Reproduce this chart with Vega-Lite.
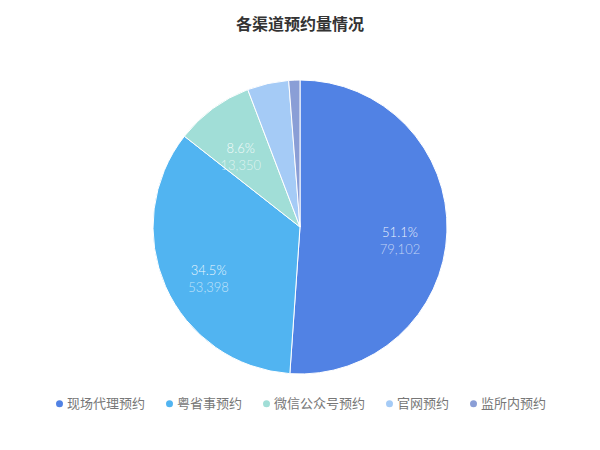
{
  "$schema": "https://vega.github.io/schema/vega-lite/v6.json",
  "width": 600,
  "height": 354,
  "autosize": "none",
  "padding": {"top": 50, "left": 0, "right": 0, "bottom": 46},
  "background": "white",
  "title": {
    "text": "各渠道预约量情况",
    "fontSize": 16,
    "fontWeight": "bold",
    "color": "#333333",
    "font": "Noto Sans CJK SC",
    "offset": 17
  },
  "data": {
    "values": [
      {"channel": "现场代理预约", "rank": 1, "count": 79102, "share": 0.511},
      {"channel": "粤省事预约", "rank": 2, "count": 53398, "share": 0.345},
      {"channel": "微信公众号预约", "rank": 3, "count": 13350, "share": 0.086},
      {"channel": "官网预约", "rank": 4, "count": 7050, "share": 0.046},
      {"channel": "监所内预约", "rank": 5, "count": 1900, "share": 0.012}
    ]
  },
  "encoding": {
    "theta": {"field": "count", "type": "quantitative", "stack": true},
    "order": {"field": "rank", "type": "quantitative"}
  },
  "layer": [
    {
      "mark": {"type": "arc", "outerRadius": 147, "stroke": "white", "strokeWidth": 1},
      "encoding": {
        "color": {
          "field": "channel",
          "type": "nominal",
          "scale": {
            "domain": ["现场代理预约", "粤省事预约", "微信公众号预约", "官网预约", "监所内预约"],
            "range": ["#5182E4", "#51B4F1", "#A1DED7", "#A5CBF6", "#8A9ED6"]
          },
          "legend": {
            "orient": "none",
            "direction": "horizontal",
            "legendX": 53,
            "legendY": 347,
            "title": null,
            "symbolType": "circle",
            "symbolSize": 49,
            "symbolStrokeWidth": 0,
            "labelFont": "Noto Sans CJK SC",
            "labelFontSize": 13,
            "labelColor": "#777777",
            "labelOffset": 1,
            "columnPadding": 17
          }
        }
      }
    },
    {
      "transform": [{"filter": "datum.share > 0.05"}],
      "mark": {
        "type": "text",
        "radius": 100,
        "dy": 3,
        "fill": "white",
        "fillOpacity": 0.9,
        "fontSize": 13,
        "font": "Lato",
        "fontWeight": 300,
        "baseline": "middle"
      },
      "encoding": {
        "text": {"field": "share", "type": "quantitative", "format": ".1%"}
      }
    },
    {
      "transform": [{"filter": "datum.share > 0.05"}],
      "mark": {
        "type": "text",
        "radius": 100,
        "dy": 20,
        "fill": "white",
        "fillOpacity": 0.65,
        "fontSize": 13,
        "font": "Lato",
        "fontWeight": 300,
        "baseline": "middle"
      },
      "encoding": {
        "text": {"field": "count", "type": "quantitative", "format": ","}
      }
    }
  ]
}
